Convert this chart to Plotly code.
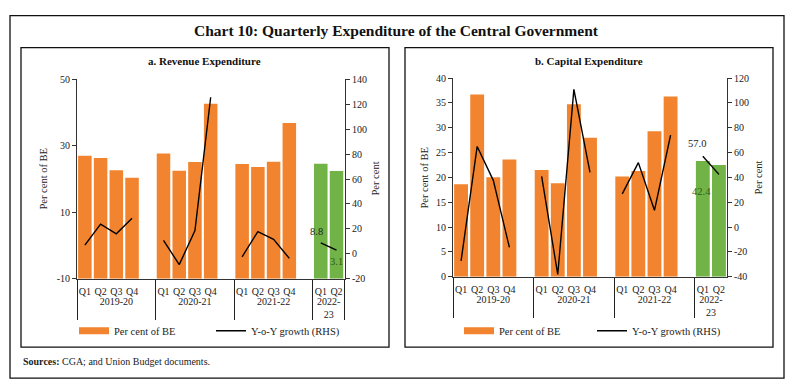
import plotly.graph_objects as go

# ---------------- data ----------------
years = ["2019-20", "2020-21", "2021-22", "2022-<br>23"]
quarters_per_year = [4, 4, 4, 2]
quarter_names = ["Q1", "Q2", "Q3", "Q4"]

rev_per_cent_be = [27.0, 26.3, 22.6, 20.4, 27.7, 22.5, 25.1, 42.6, 24.5, 23.6, 25.2, 36.8, 24.6, 22.4]
rev_yoy_growth = [7.0, 23.9, 16.1, 28.6, 10.9, -8.6, 18.7, 125.5, -2.3, 17.9, 11.7, -3.6, 8.8, 3.1]
cap_per_cent_be = [18.6, 36.7, 20.0, 23.6, 21.5, 18.8, 34.7, 28.0, 20.2, 21.3, 29.3, 36.3, 23.3, 22.5]
cap_yoy_growth = [-27.3, 64.9, 37.6, -16.4, 40.8, -38.2, 110.9, 44.1, 26.7, 51.9, 13.5, 74.0, 57.0, 42.4]

rev_left_ticks = [-10, 10, 30, 50]
rev_right_ticks = [-20, 0, 20, 40, 60, 80, 100, 120, 140]
cap_left_ticks = [0, 5, 10, 15, 20, 25, 30, 35, 40]
cap_right_ticks = [-40, -20, 0, 20, 40, 60, 80, 100, 120]

# ---------------- styles ----------------
ORANGE = "#F2842F"
GREEN = "#72B347"
DARKGREEN = "#2E5E1A"
FONT = "Liberation Serif"
TXT = "#222222"
W, H = 792, 391


def px_x(x):
    return x / W


def px_y(y):
    return 1 - y / H


# build multicategory axis with a blank slot after each full year
xa_year, xa_q, slot_idx = [], [], []
k = 0
for yi, (yr, n) in enumerate(zip(years, quarters_per_year)):
    for q in range(n):
        xa_year.append(yr)
        xa_q.append(quarter_names[q])
        slot_idx.append(k)
        k += 1
    if yi < len(years) - 1:
        xa_year.append(yr)
        xa_q.append(" ")
        slot_idx.append(None)


def spread(vals):
    return [None if s is None else vals[s] for s in slot_idx]


bar_colors = [GREEN if yr == years[-1] else ORANGE for yr in xa_year]
n_slots = len(xa_q)

fig = go.Figure()


def add_panel(xa, ya, ya2, be, yoy, ymin, legend, label_shifts, label_colors):
    fig.add_trace(go.Scatter(
        x=[xa_year, xa_q], y=[None] * n_slots, mode="lines",
        line=dict(color=ORANGE, width=7), name="Per cent of BE",
        xaxis=xa, yaxis=ya, legend=legend, hoverinfo="skip"))
    be_full = spread(be)
    fig.add_trace(go.Bar(
        x=[xa_year, xa_q],
        y=[None if v is None else v - ymin for v in be_full],
        base=ymin, marker=dict(color=bar_colors, line=dict(width=0)),
        width=0.86, showlegend=False, xaxis=xa, yaxis=ya,
        customdata=be_full, hovertemplate="%{customdata}<extra></extra>"))
    yoy_full = spread(yoy)
    fig.add_trace(go.Scatter(
        x=[xa_year, xa_q], y=yoy_full, mode="lines",
        line=dict(color="black", width=1.4), name="Y-o-Y growth (RHS)",
        xaxis=xa, yaxis=ya2, legend=legend, connectgaps=False))
    # data labels for the latest year
    n_last = quarters_per_year[-1]
    for j in range(n_last):
        idx = n_slots - n_last + j
        v = yoy_full[idx]
        dx, dy = label_shifts[j]
        fig.add_annotation(x=idx, y=v, xref=xa, yref=ya2, text=f"{v:.1f}", showarrow=False,
                           xshift=dx, yshift=dy,
                           font=dict(family=FONT, size=10.5, color=label_colors[j]))


add_panel("x", "y", "y2", rev_per_cent_be, rev_yoy_growth, rev_left_ticks[0], "legend",
          [(-4, 11), (0, -11)], [TXT, DARKGREEN])
add_panel("x2", "y3", "y4", cap_per_cent_be, cap_yoy_growth, cap_left_ticks[0], "legend2",
          [(-6, 12.5), (-17, -17.5)], [TXT, DARKGREEN])

tickfont = dict(family=FONT, size=10, color=TXT)
xcommon = dict(type="multicategory", showline=True, linecolor="#333", linewidth=1,
               ticks="", tickfont=tickfont, showgrid=False, showdividers=True,
               dividercolor="#222", dividerwidth=1, tickangle=0, fixedrange=True,
               ticklabelstandoff=3)
ycommon = dict(showline=True, linecolor="#333", linewidth=1, ticks="outside", ticklen=4,
               tickcolor="#333", tickfont=tickfont, showgrid=False, zeroline=False, fixedrange=True)


def tt(ticks):
    return [str(t) for t in ticks]


fig.update_layout(
    width=W, height=H, margin=dict(l=0, r=0, t=0, b=0),
    paper_bgcolor="white", plot_bgcolor="rgba(0,0,0,0)",
    font=dict(family=FONT, color=TXT), barmode="overlay",
    xaxis=dict(domain=[px_x(77), px_x(345)], anchor="y", **xcommon),
    yaxis=dict(domain=[px_y(281.5), px_y(75.5)], anchor="x",
               range=[rev_left_ticks[0], rev_left_ticks[-1]], tickvals=rev_left_ticks,
               ticktext=tt(rev_left_ticks), **ycommon),
    yaxis2=dict(overlaying="y", side="right", anchor="x",
                range=[rev_right_ticks[0], rev_right_ticks[-1]], tickvals=rev_right_ticks,
                ticktext=tt(rev_right_ticks), **ycommon),
    xaxis2=dict(domain=[px_x(453), px_x(727)], anchor="y3", **xcommon),
    yaxis3=dict(domain=[px_y(279.3), px_y(74.3)], anchor="x2",
                range=[cap_left_ticks[0], cap_left_ticks[-1]], tickvals=cap_left_ticks,
                ticktext=tt(cap_left_ticks), **ycommon),
    yaxis4=dict(overlaying="y3", side="right", anchor="x2",
                range=[cap_right_ticks[0], cap_right_ticks[-1]], tickvals=cap_right_ticks,
                ticktext=tt(cap_right_ticks), **ycommon),
    legend=dict(orientation="h", x=px_x(74), y=px_y(335), xanchor="left", yanchor="middle",
                font=dict(family=FONT, size=10.5, color=TXT), bgcolor="rgba(0,0,0,0)",
                entrywidth=92, entrywidthmode="pixels", traceorder="normal"),
    legend2=dict(orientation="h", x=px_x(459), y=px_y(335), xanchor="left", yanchor="middle",
                 font=dict(family=FONT, size=10.5, color=TXT), bgcolor="rgba(0,0,0,0)",
                 entrywidth=88, entrywidthmode="pixels", traceorder="normal"),
)

# frames
for (x0, y0, x1, y1) in [(10, 10, 784, 384), (21, 43, 389, 352), (405, 43, 773, 352)]:
    fig.add_shape(type="rect", xref="paper", yref="paper",
                  x0=px_x(x0), y0=px_y(y0), x1=px_x(x1), y1=px_y(y1),
                  line=dict(color="#111", width=1.3), fillcolor="rgba(0,0,0,0)", layer="below")

ann = [
    dict(text="<b>Chart 10: Quarterly Expenditure of the Central Government</b>", x=396, y=25, size=15.5),
    dict(text="<b>a. Revenue Expenditure</b>", x=205, y=57, size=11),
    dict(text="<b>b. Capital Expenditure</b>", x=589, y=57, size=11),
]
for a in ann:
    fig.add_annotation(text=a["text"], x=px_x(a["x"]), y=px_y(a["y"]), xref="paper", yref="paper",
                       showarrow=False, xanchor="center", yanchor="middle",
                       font=dict(family=FONT, size=a["size"], color="#111"))

for (t, x, y) in [("Per cent of BE", 44, 178), ("Per cent", 376, 178),
                  ("Per cent of BE", 425, 177), ("Per cent", 759, 177)]:
    fig.add_annotation(text=t, x=px_x(x), y=px_y(y), xref="paper", yref="paper", showarrow=False,
                       textangle=-90, xanchor="center", yanchor="middle",
                       font=dict(family=FONT, size=10.5, color=TXT))

fig.add_annotation(text="<b>Sources:</b> CGA; and Union Budget documents.", x=px_x(21), y=px_y(367),
                   xref="paper", yref="paper", showarrow=False, xanchor="left", yanchor="middle",
                   font=dict(family=FONT, size=10, color=TXT))

fig.write_html("out.html", config={"displayModeBar": False},
               post_script="document.body.style.margin='0';document.body.style.padding='0';"
                           "document.body.style.overflow='hidden';")
